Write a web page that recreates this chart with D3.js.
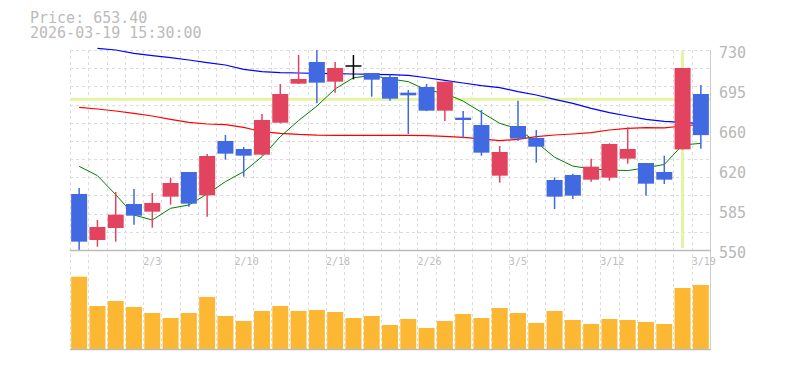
<!DOCTYPE html>
<html>
<head>
<meta charset="utf-8">
<script src="https://cdn.jsdelivr.net/npm/d3@7"></script>
<style>
  body { margin: 0; background: #fff; }
  text { font-family: "DejaVu Sans Mono", monospace; }
</style>
</head>
<body>
<div id="chart"></div>
<script>
// trading days shown (35 candles)
var dates = ["1/28","1/29","1/30","2/2","2/3","2/4","2/5","2/6","2/9","2/10",
  "2/12","2/13","2/16","2/17","2/18","2/19","2/20","2/24","2/25","2/26",
  "2/27","3/2","3/3","3/4","3/5","3/6","3/9","3/10","3/11","3/12",
  "3/13","3/16","3/17","3/18","3/19"];

var opens  = [600.4,559.0,569.8,591.4,584.5,598.0,620.2,599.2,648.1,640.9,
  635.8,664.6,699.7,719.2,701.5,715.6,709.3,705.7,691.6,696.7,
  675.4,669.1,662.5,616.9,661.6,650.8,613.0,617.5,613.3,615.1,
  632.2,628.3,620.2,640.6,690.4];
var highs  = [605.8,577.0,602.2,604.9,601.3,615.1,620.2,636.4,653.5,642.7,
  672.4,699.4,725.5,730.0,719.2,725.5,709.3,707.8,694.0,699.4,
  701.5,675.1,676.0,643.6,684.4,658.0,615.4,618.7,632.2,646.0,
  660.4,628.3,634.9,713.8,698.5];
var lows   = [550.0,553.0,557.5,572.8,570.1,590.8,589.0,580.0,631.3,616.0,
  635.0,664.0,699.5,682.0,691.6,703.6,688.0,684.4,654.4,675.0,
  666.1,650.5,634.9,610.6,648.4,628.6,586.9,595.9,611.5,612.4,
  627.7,598.9,609.4,640.6,641.2];
var closes = [557.5,570.7,581.8,580.9,592.3,610.3,591.7,634.6,636.7,634.9,
  667.0,690.4,703.9,700.6,713.8,715.6,703.3,686.2,689.2,675.4,
  701.5,667.0,637.6,638.2,650.2,643.0,598.0,598.9,625.0,645.4,
  640.9,609.7,613.3,713.8,653.4];

// volume, thousand shares
var volumes = [723,430,480,420,360,310,360,520,330,280,
  380,430,380,390,370,310,330,240,300,210,
  280,350,310,410,360,260,380,290,250,300,
  290,270,250,610,640];

// moving averages
var ma5 = [625.3,616.9,599.8,581.5,577.0,587.5,590.5,600.4,611.5,620.5,
  634.0,652.0,666.5,679.5,695.0,705.0,707.0,704.0,701.5,694.0,
  691.0,684.0,674.0,664.0,659.0,647.0,633.5,625.5,623.0,622.0,
  621.5,624.0,627.0,644.5,646.0];
var ma25 = [678.4,676.9,675.1,673.0,670.6,667.6,664.9,663.4,662.8,660.4,
  656.5,655.0,654.0,653.4,653.2,653.2,653.2,653.2,653.2,653.0,
  652.3,651.4,650.0,648.4,649.6,652.0,653.5,654.4,655.6,658.0,
  659.5,660.1,660.0,661.6,663.0];
var ma75 = [null,731.5,730.0,727.0,724.9,723.1,721.0,718.6,716.5,712.6,
  710.5,709.6,709.3,709.0,708.7,708.4,708.0,707.8,707.2,705.0,
  702.7,700.3,697.9,696.1,692.5,689.5,685.6,682.0,677.5,673.6,
  670.6,667.6,665.8,664.9,663.7];

var xTickIndex = [4, 9, 14, 19, 24, 29, 34];
var yTickValues = [550, 586, 622, 658, 694, 730];
var yTickLabels = ["550", "585", "620", "660", "695", "730"];

var infoLines = ["Price: 653.40", "2026-03-19 15:30:00"];
var hoverIndex = 33;
var hoverPrice = 685.6;

var W = 785, H = 370;
var plotL = 70, plotR = 710, plotT = 50, plotB = 250, volB = 349, volT = 269;

var svg = d3.select("#chart")
    .append("svg")
    .attr("width", W)
    .attr("height", H);

var x = d3.scaleBand()
    .domain(d3.range(dates.length))
    .range([plotL, plotR])
    .padding(0);

var y = d3.scaleLinear()
    .domain([550, 730])
    .range([plotB, plotT]);

var yv = d3.scaleLinear()
    .domain([0, 800])
    .range([volB, volT]);

var bw = x.bandwidth();
var bodyW = 16;
var cx = function (i) { return x(i) + bw / 2; };

// grid
var gridPrices = d3.range(11).map(k => 550 + (11 - k) * 180 / 11);
svg.selectAll(".hgrid")
    .data(gridPrices)
    .join("line")
    .attr("class", "hgrid")
    .attr("x1", plotL).attr("x2", plotR)
    .attr("y1", d => Math.round(y(d)) + 0.5).attr("y2", d => Math.round(y(d)) + 0.5)
    .style("stroke", "#dcdcdc")
    .style("stroke-dasharray", "3,3");

svg.selectAll(".vgrid")
    .data(d3.range(dates.length))
    .join("line")
    .attr("class", "vgrid")
    .attr("x1", d => Math.round(x(d)) + 0.5).attr("x2", d => Math.round(x(d)) + 0.5)
    .attr("y1", plotT).attr("y2", volB + 1)
    .style("stroke", "#dcdcdc")
    .style("stroke-dasharray", "3,3");

// crosshair
svg.append("line")
    .attr("x1", plotL).attr("x2", plotR)
    .attr("y1", y(hoverPrice)).attr("y2", y(hoverPrice))
    .style("stroke", "#e4f4a4")
    .style("stroke-width", 3);
svg.append("line")
    .attr("x1", cx(hoverIndex)).attr("x2", cx(hoverIndex))
    .attr("y1", plotT + 1).attr("y2", plotB - 2)
    .style("stroke", "#e4f4a4")
    .style("stroke-width", 3);

// moving averages
var maLine = d3.line()
    .defined(d => d != null)
    .x((d, i) => cx(i))
    .y(d => y(d));

[[ma75, "#0000ff", 1.2], [ma25, "#ff0000", 1.2], [ma5, "#008000", 1]].forEach(function (m) {
    svg.append("path")
        .datum(m[0])
        .attr("d", maLine)
        .style("fill", "none")
        .style("stroke", m[1])
        .style("stroke-width", m[2]);
});

// candles
var candleColor = function (i) {
    if (closes[i] > opens[i]) return "#e2435f";
    if (closes[i] < opens[i]) return "#4169e1";
    return "#000";
};

var candles = svg.selectAll(".candle")
    .data(d3.range(dates.length))
    .join("g")
    .attr("class", "candle");

candles.append("line")
    .attr("x1", d => cx(d)).attr("x2", d => cx(d))
    .attr("y1", d => y(highs[d])).attr("y2", d => y(lows[d]))
    .style("stroke", d => candleColor(d))
    .style("stroke-width", 1.5);

candles.filter(d => opens[d] != closes[d])
    .append("rect")
    .attr("x", d => cx(d) - bodyW / 2)
    .attr("y", d => y(Math.max(opens[d], closes[d])))
    .attr("width", bodyW)
    .attr("height", d => Math.max(1, Math.abs(y(opens[d]) - y(closes[d]))))
    .style("fill", d => candleColor(d));

candles.filter(d => opens[d] == closes[d])
    .append("line")
    .attr("x1", d => cx(d) - bodyW / 2).attr("x2", d => cx(d) + bodyW / 2)
    .attr("y1", d => y(opens[d])).attr("y2", d => y(opens[d]))
    .style("stroke", "#000")
    .style("stroke-width", 1.5);

// volume
svg.selectAll(".vol")
    .data(volumes)
    .join("rect")
    .attr("class", "vol")
    .attr("x", (d, i) => cx(i) - bodyW / 2)
    .attr("y", d => yv(d))
    .attr("width", bodyW)
    .attr("height", d => volB - yv(d))
    .style("fill", "#fdb833");

// frame lines
svg.append("line")
    .attr("x1", plotL).attr("x2", plotR + 1)
    .attr("y1", plotB + 0.5).attr("y2", plotB + 0.5)
    .style("stroke", "#bbb").style("stroke-width", 1.5);
svg.append("line")
    .attr("x1", plotL).attr("x2", plotR + 1)
    .attr("y1", volB + 0.5).attr("y2", volB + 0.5)
    .style("stroke", "#bbb").style("stroke-width", 1.5);
svg.append("line")
    .attr("x1", plotR + 0.5).attr("x2", plotR + 0.5)
    .attr("y1", plotT).attr("y2", volB + 1)
    .style("stroke", "#ccc").style("stroke-width", 1);

// axes
var yAxis = svg.append("g")
    .attr("transform", "translate(" + plotR + ",0)")
    .call(d3.axisRight(y)
        .tickValues(yTickValues)
        .tickFormat((d, i) => yTickLabels[i])
        .tickSize(0)
        .tickPadding(9));
yAxis.select(".domain").remove();
yAxis.selectAll("text")
    .attr("dy", "0.5em")
    .style("font-family", "DejaVu Sans Mono")
    .style("font-size", "15px")
    .style("fill", "#b8b8b8");

var xAxis = svg.append("g")
    .attr("transform", "translate(0," + plotB + ")")
    .call(d3.axisBottom(x)
        .tickValues(xTickIndex)
        .tickFormat(i => dates[i])
        .tickSize(0)
        .tickPadding(7.5));
xAxis.select(".domain").remove();
xAxis.selectAll("text")
    .attr("x", -bw / 2)
    .attr("text-anchor", "start")
    .style("font-family", "DejaVu Sans Mono")
    .style("font-size", "10px")
    .style("fill", "#bdbdbd");

// info text
svg.selectAll(".info")
    .data(infoLines)
    .join("text")
    .attr("class", "info")
    .attr("x", 30)
    .attr("y", (d, i) => 23 + i * 15)
    .text(d => d)
    .style("font-size", "15px")
    .style("fill", "#bbb");
</script>
</body>
</html>
